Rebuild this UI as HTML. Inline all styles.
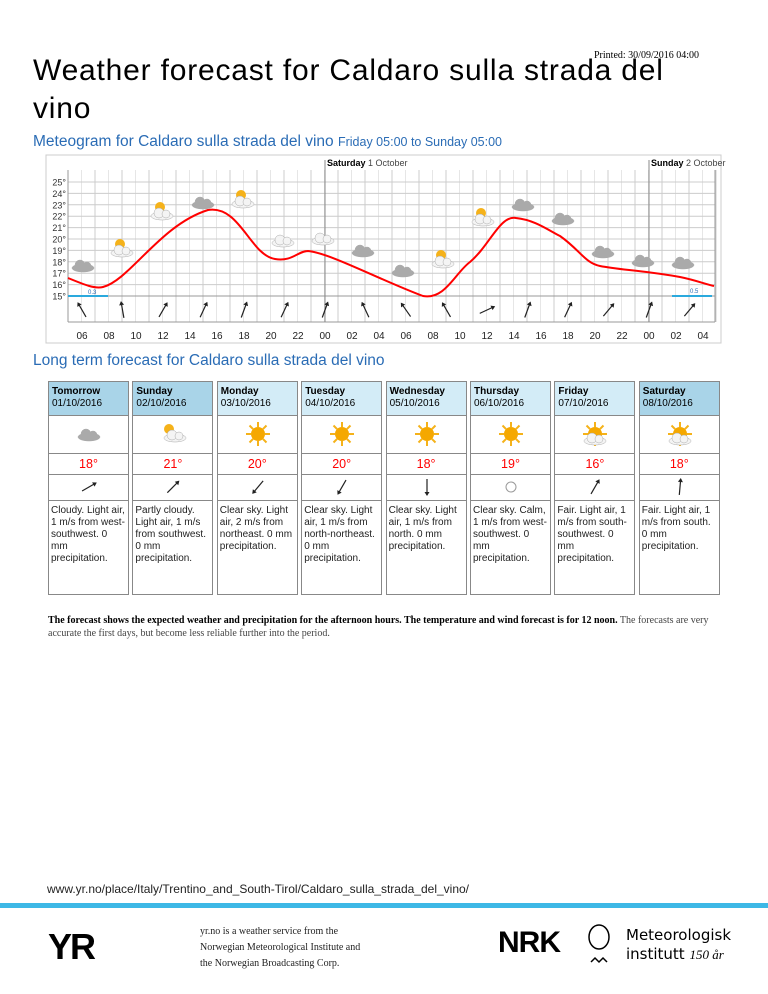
<!DOCTYPE html>
<html><head><meta charset="utf-8">
<style>
body{margin:0;width:768px;height:994px;background:#fff;font-family:"Liberation Sans",Arial,sans-serif;position:relative;overflow:hidden}
.abs{position:absolute}
h1{position:absolute;left:33px;top:52px;margin:0;font-weight:normal;font-size:30px;line-height:38px;color:#000;width:660px;letter-spacing:0.8px}
.printed{position:absolute;left:594px;top:50px;font-family:"Liberation Serif",serif;font-size:10px}
.sub{position:absolute;left:33px;top:133px;font-size:15.5px;color:#2a6cb5}
.sub small{font-size:12.5px}
.lt{position:absolute;left:33px;top:352px;font-size:15.5px;color:#2a6cb5}
.col{position:absolute;top:381px;width:81px;height:214px;border:1px solid #888;box-sizing:border-box}
.hd{height:34px;border-bottom:1px solid #888;font-size:10px;padding:4px 3px;box-sizing:border-box;line-height:12px;background:#d3ecf7}
.hd b{display:block}
.ic{height:37px;border-bottom:1px solid #888;position:relative}
.tp{height:20px;border-bottom:1px solid #888;color:#f00;text-align:center;font-size:12.5px;line-height:20px}
.wd{height:25px;border-bottom:1px solid #888;position:relative}
.tx{font-size:10px;line-height:12px;padding:4px 2px;color:#222}
.note{position:absolute;left:48px;top:614px;width:680px;font-family:"Liberation Serif",serif;font-size:10px;line-height:13px;color:#444}
.note b{color:#000}
.url{position:absolute;left:47px;top:882px;font-size:12px;color:#222}
.bar{position:absolute;left:0;top:903px;width:768px;height:5px;background:#3db8e6}
.foot{position:absolute;left:200px;top:924px;font-family:"Liberation Serif",serif;font-size:10px;line-height:16px;color:#222}
</style></head><body>
<div class="printed">Printed: 30/09/2016 04:00</div>
<h1>Weather forecast for Caldaro sulla strada del vino</h1>
<div class="sub">Meteogram for Caldaro sulla strada del vino <small>Friday 05:00 to Sunday 05:00</small></div>
<svg id="mg" class="abs" style="left:0;top:0" width="768" height="350"></svg>
<div class="lt">Long term forecast for Caldaro sulla strada del vino</div>
<div id="cols"></div>
<div class="note"><b>The forecast shows the expected weather and precipitation for the afternoon hours. The temperature and wind forecast is for 12 noon.</b> The forecasts are very accurate the first days, but become less reliable further into the period.</div>
<div class="url">www.yr.no/place/Italy/Trentino_and_South-Tirol/Caldaro_sulla_strada_del_vino/</div>
<div class="bar"></div>
<div class="abs" style="left:48px;top:926px;font-size:36px;font-weight:bold;letter-spacing:-2px">YR</div>
<div class="foot">yr.no is a weather service from the<br>Norwegian Meteorological Institute and<br>the Norwegian Broadcasting Corp.</div>
<div class="abs" style="left:498px;top:926px;font-size:30px;font-weight:bold;letter-spacing:-1px">NRK</div>
<svg class="abs" style="left:585px;top:924px" width="40" height="46"><ellipse cx="14" cy="13" rx="10" ry="12" fill="none" stroke="#000" stroke-width="1.5"/><path d="M6 38 l4 -4 l4 4 l4 -4 l4 4" fill="none" stroke="#000" stroke-width="1.5"/></svg>
<div class="abs" style="left:626px;top:926px;font-family:'DejaVu Sans',sans-serif;font-size:15px;line-height:19px">Meteorologisk<br>institutt <i style="font-family:'Liberation Serif',serif;font-size:13px">150 år</i></div>
<script>
var s='';
function X(h){return 68+h*13.5}
function Y(t){return 296-(t-15)*11.4}
s+='<rect x="46" y="155" width="675" height="188" fill="#fff" stroke="#ccc"/>';
for(var h=0;h<=48;h++){var x=X(h);s+='<line x1="'+x+'" y1="170" x2="'+x+'" y2="322" stroke="'+(h%2?'#e6e6e6':'#ccc')+'"/>';}
for(var t=15;t<=25;t++){s+='<line x1="68" y1="'+Y(t)+'" x2="715" y2="'+Y(t)+'" stroke="#ccc"/>';s+='<text x="66" y="'+(Y(t)+3.5)+'" font-size="9" text-anchor="end" fill="#333">'+t+'°</text>';}
s+='<line x1="68" y1="296" x2="715" y2="296" stroke="#999"/><line x1="68" y1="322" x2="715" y2="322" stroke="#999"/><line x1="68" y1="170" x2="68" y2="322" stroke="#999"/><line x1="715" y1="170" x2="715" y2="322" stroke="#999"/>';
s+='<line x1="325" y1="160" x2="325" y2="322" stroke="#888"/><line x1="649" y1="160" x2="649" y2="322" stroke="#888"/>';
s+='<text x="327" y="166" font-size="9"><tspan font-weight="bold">Saturday</tspan><tspan fill="#444"> 1 October</tspan></text>';
s+='<text x="651" y="166" font-size="9"><tspan font-weight="bold">Sunday</tspan><tspan fill="#444"> 2 October</tspan></text>';
var lb=['06','08','10','12','14','16','18','20','22','00','02','04','06','08','10','12','14','16','18','20','22','00','02','04'];
for(var i=0;i<24;i++)s+='<text x="'+(82+i*27)+'" y="339" font-size="10" text-anchor="middle" fill="#222">'+lb[i]+'</text>';
s+='<path d="M68 278 C85 285 95 289 103 287 C130 280 160 225 208 210 C240 205 250 255 275 259 C292 262 298 251 308 251 C330 253 380 280 423 296 C445 300 455 273 470 262 C490 245 500 215 516 218 C535 220 548 230 560 236 C580 250 585 263 600 266 C620 270 640 270 680 277 C695 280 705 284 714 286" fill="none" stroke="#f00" stroke-width="2"/>';
s+='<line x1="68" y1="296" x2="108" y2="296" stroke="#2aa9dd" stroke-width="2"/><text x="88" y="294" font-size="6" fill="#2a6cb5">0.3</text>';
s+='<line x1="672" y1="296" x2="712" y2="296" stroke="#2aa9dd" stroke-width="2"/><text x="690" y="293" font-size="6" fill="#2a6cb5">0.5</text>';
var ang=[-30,-10,30,25,20,25,20,-25,-35,-30,65,20,25,40,20,40];
for(var i=0;i<ang.length;i++){var x=82+i*40.5;s+='<g transform="translate('+x+',310) rotate('+ang[i]+')"><line x1="0" y1="-8" x2="0" y2="8" stroke="#222" stroke-width="1.2"/><path d="M-2.5 -5 L0 -9 L2.5 -5z" fill="#222"/></g>';}
function cloud(x,y,c){return '<g fill="'+c+'" stroke="#aaa" stroke-width=".5"><ellipse cx="'+x+'" cy="'+(y+3)+'" rx="11" ry="4"/><circle cx="'+(x-3)+'" cy="'+y+'" r="5"/><circle cx="'+(x+4)+'" cy="'+(y+1)+'" r="4"/></g>';}
function sun(x,y){return '<circle cx="'+x+'" cy="'+y+'" r="5" fill="#f5b21a"/>';}
var ic=[[83,265,'g'],[122,248,'ps'],[162,211,'ps'],[203,202,'g'],[243,199,'ps'],[283,240,'w'],[323,238,'w'],[363,250,'g'],[403,270,'g'],[443,259,'ps'],[483,217,'ps'],[523,204,'g'],[563,218,'g'],[603,251,'g'],[643,260,'g'],[683,262,'g']];
ic.forEach(function(a){if(a[2]=='ps'){s+=sun(a[0]-2,a[1]-4);s+=cloud(a[0],a[1]+2,'#f4f4f4');}else if(a[2]=='w')s+=cloud(a[0],a[1],'#f4f4f4');else s+=cloud(a[0],a[1],'#aaa');});
document.getElementById('mg').innerHTML=s;
var d=[['Tomorrow','01/10/2016','c','18°',60,'Cloudy. Light air, 1 m/s from west-southwest. 0 mm precipitation.',1],
['Sunday','02/10/2016','p','21°',45,'Partly cloudy. Light air, 1 m/s from southwest. 0 mm precipitation.',1],
['Monday','03/10/2016','s','20°',-140,'Clear sky. Light air, 2 m/s from northeast. 0 mm precipitation.',0],
['Tuesday','04/10/2016','s','20°',-150,'Clear sky. Light air, 1 m/s from north-northeast. 0 mm precipitation.',0],
['Wednesday','05/10/2016','s','18°',180,'Clear sky. Light air, 1 m/s from north. 0 mm precipitation.',0],
['Thursday','06/10/2016','s','19°',null,'Clear sky. Calm, 1 m/s from west-southwest. 0 mm precipitation.',0],
['Friday','07/10/2016','f','16°',30,'Fair. Light air, 1 m/s from south-southwest. 0 mm precipitation.',0],
['Saturday','08/10/2016','f','18°',5,'Fair. Light air, 1 m/s from south. 0 mm precipitation.',1]];
var h='';
d.forEach(function(r,i){
var icon='<svg width="81" height="37">';
if(r[2]=='c')icon+=cloud(40,18,'#aaa');
else if(r[2]=='p')icon+=sun(36,13)+cloud(42,19,'#f4f4f4');
else {icon+='<g stroke="#f5b21a" stroke-width="2">';for(var k=0;k<8;k++){var a=k*Math.PI/4;icon+='<line x1="'+(40+7*Math.cos(a))+'" y1="'+(18+7*Math.sin(a))+'" x2="'+(40+12*Math.cos(a))+'" y2="'+(18+12*Math.sin(a))+'"/>';}icon+='</g><circle cx="40" cy="18" r="7" fill="#f5a800"/>';if(r[2]=='f')icon+=cloud(40,22,'#f4f4f4');}
icon+='</svg>';
var w='<svg width="81" height="25">';
if(r[4]===null)w+='<circle cx="40" cy="12" r="5" fill="none" stroke="#999"/>';
else w+='<g transform="translate(40,12) rotate('+r[4]+')"><line x1="0" y1="-8" x2="0" y2="8" stroke="#222" stroke-width="1.2"/><path d="M-2.5 -5 L0 -9 L2.5 -5z" fill="#222"/></g>';
w+='</svg>';
h+='<div class="col" style="left:'+(48+i*84.4)+'px"><div class="hd" style="'+(r[6]?'background:#a9d4e8':'')+'"><b>'+r[0]+'</b>'+r[1]+'</div><div class="ic">'+icon+'</div><div class="tp">'+r[3]+'</div><div class="wd">'+w+'</div><div class="tx">'+r[5]+'</div></div>';});
document.getElementById('cols').innerHTML=h;
</script>
</body></html>
